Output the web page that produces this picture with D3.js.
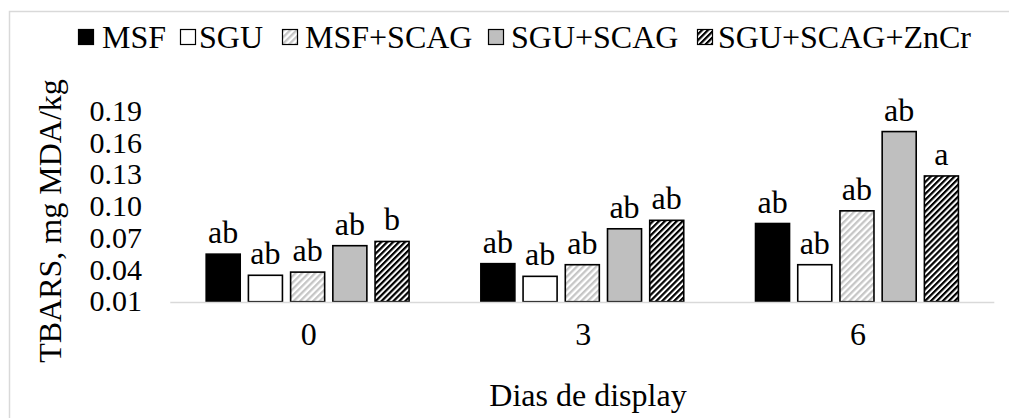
<!DOCTYPE html>
<html>
<head>
<meta charset="utf-8">
<script src="https://cdn.jsdelivr.net/npm/d3@7"></script>
<style>
  html, body { margin: 0; padding: 0; background: #fff; }
  svg { display: block; font-family: "Liberation Serif", "Times New Roman", serif; }
</style>
</head>
<body>
<svg id="chart" width="1009" height="418"></svg>
<script>
// Display days on the x axis
const days = ["0", "3", "6"];
// Treatments (legend order)
const treatments = ["MSF", "SGU", "MSF+SCAG", "SGU+SCAG", "SGU+SCAG+ZnCr"];
// TBARS values (mg MDA/kg) per treatment, one entry per day
const msf       = [0.055, 0.046, 0.084];
const sgu       = [0.035, 0.034, 0.045];
const msfScag   = [0.038, 0.045, 0.096];
const sguScag   = [0.063, 0.079, 0.171];
const sguScagZn = [0.067, 0.087, 0.129];
// Significance letters per treatment, one per day
const lettersMsf   = ["ab", "ab", "ab"];
const lettersSgu   = ["ab", "ab", "ab"];
const lettersMsfSc = ["ab", "ab", "ab"];
const lettersSguSc = ["ab", "ab", "ab"];
const lettersSguZn = ["b", "ab", "a"];
// Y axis ticks
const yTicks = [0.01, 0.04, 0.07, 0.10, 0.13, 0.16, 0.19];

const series = [msf, sgu, msfScag, sguScag, sguScagZn];
const letters = [lettersMsf, lettersSgu, lettersMsfSc, lettersSguSc, lettersSguZn];

const FONT = 32;
const TICK_FONT = 30;
const svg = d3.select("#chart");
const defs = svg.append("defs");

// Diagonal hatch fills
function stripes(id, color, period, width) {
  const p = defs.append("pattern")
    .attr("id", id)
    .attr("patternUnits", "userSpaceOnUse")
    .attr("width", period).attr("height", period)
    .attr("patternTransform", "rotate(45)");
  p.append("rect").attr("width", period).attr("height", period).attr("fill", "#fff");
  p.append("rect").attr("width", width).attr("height", period).attr("fill", color);
}
stripes("hatchLight", "#c6c6c6", 4.6, 2.3);
stripes("hatchDark", "#000", 4.2, 2.2);

const fills = ["#000", "#fff", "url(#hatchLight)", "#bfbfbf", "url(#hatchDark)"];

// Outer frame
svg.append("rect")
  .attr("x", 9.5).attr("y", 11.5)
  .attr("width", 1200).attr("height", 1000)
  .attr("fill", "none").attr("stroke", "#d9d9d9").attr("stroke-width", 1.5);

const plot = { left: 170.3, right: 994.3, top: 111.5, bottom: 301.7 };

const x0 = d3.scaleBand().domain(days).range([plot.left, plot.right]).paddingInner(0).paddingOuter(0);
const x1 = d3.scaleBand().domain(d3.range(treatments.length))
  .range([0, x0.bandwidth()]).paddingInner(0.194).paddingOuter(0.85);
const y = d3.scaleLinear().domain([0.01, 0.19]).range([plot.bottom, plot.top]);

// Y axis tick labels (no axis line, no tick marks)
const yAxis = d3.axisLeft(y).tickValues(yTicks).tickFormat(d3.format(".2f")).tickSize(0).tickPadding(0);
const gy = svg.append("g").attr("transform", "translate(142,0)").call(yAxis);
gy.select(".domain").remove();
gy.selectAll("text")
  .attr("font-family", "Liberation Serif, serif")
  .attr("font-size", TICK_FONT).attr("fill", "#000")
  .attr("dy", "0.3em").attr("text-anchor", "end");

// Bars with significance letters
const groups = svg.append("g").selectAll("g").data(days).join("g")
  .attr("transform", d => `translate(${x0(d)},0)`);

groups.each(function(day, di) {
  const g = d3.select(this);
  series.forEach((s, si) => {
    g.append("rect")
      .attr("x", x1(si))
      .attr("y", y(s[di]))
      .attr("width", x1.bandwidth())
      .attr("height", y(0.01) - y(s[di]))
      .attr("fill", fills[si])
      .attr("stroke", "#000").attr("stroke-width", 1.6);
    g.append("text")
      .attr("x", x1(si) + x1.bandwidth() / 2)
      .attr("y", y(s[di]) - 11)
      .attr("text-anchor", "middle")
      .attr("font-size", FONT)
      .text(letters[si][di]);
  });
});

// Category axis line
svg.append("line")
  .attr("x1", plot.left).attr("x2", plot.right)
  .attr("y1", plot.bottom + 0.8).attr("y2", plot.bottom + 0.8)
  .attr("stroke", "#d9d9d9").attr("stroke-width", 1.5);

// Category labels
const xAxis = d3.axisBottom(x0).tickSize(0).tickPadding(0);
const gx = svg.append("g").attr("transform", `translate(1,${plot.bottom + 43})`).call(xAxis);
gx.select(".domain").remove();
gx.selectAll("text")
  .attr("font-family", "Liberation Serif, serif")
  .attr("font-size", FONT).attr("fill", "#000").attr("dy", 0);

// Axis titles
svg.append("text")
  .attr("x", 588).attr("y", 406)
  .attr("text-anchor", "middle").attr("font-size", FONT)
  .text("Dias de display");

svg.append("text")
  .attr("transform", "translate(61,221) rotate(-90)")
  .attr("text-anchor", "middle").attr("font-size", FONT)
  .text("TBARS, mg MDA/kg");

// Legend: swatch and label positions along the top row
const swatchX = [78, 180, 282, 488, 697];
const labelX = [102, 199, 305, 511, 718];
const legend = svg.append("g");
treatments.forEach((t, i) => {
  legend.append("rect")
    .attr("x", swatchX[i] + 0.5).attr("y", 29.5).attr("width", 15).attr("height", 15)
    .attr("fill", fills[i]).attr("stroke", "#000").attr("stroke-width", 1.2);
  legend.append("text")
    .attr("x", labelX[i]).attr("y", 48)
    .attr("font-size", FONT)
    .text(t);
});
</script>
</body>
</html>
